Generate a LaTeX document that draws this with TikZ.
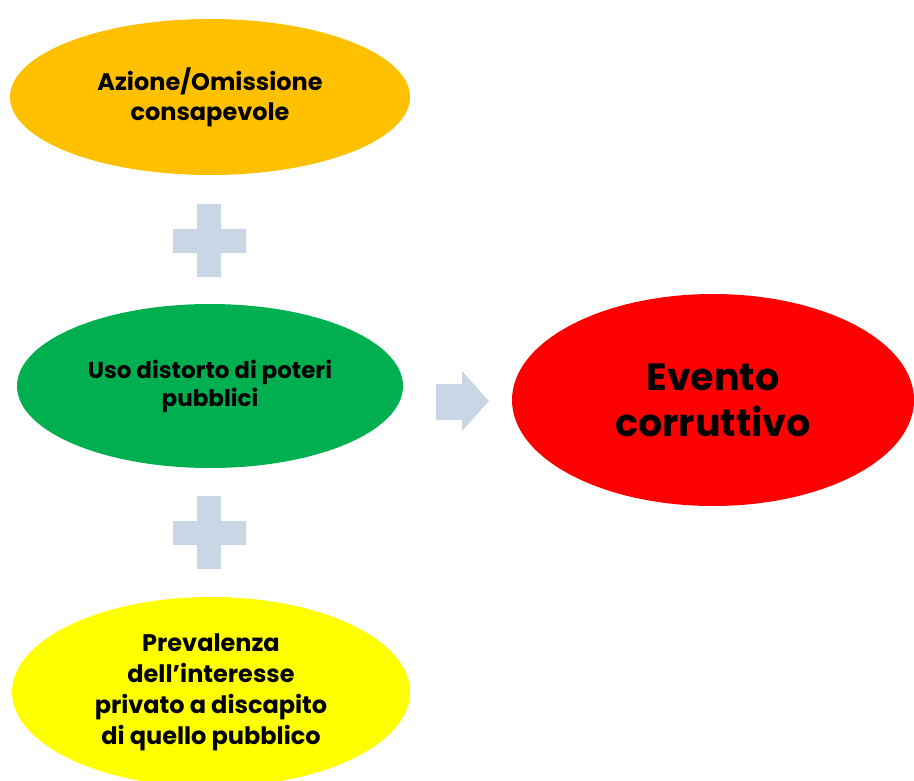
\documentclass[tikz,border=0pt]{standalone}
\usepackage{fontspec}
\setmainfont{Poppins}
\usetikzlibrary{shapes.geometric}
\definecolor{arancio}{HTML}{FFC000}
\definecolor{verde}{HTML}{00B050}
\definecolor{giallo}{HTML}{FFFF00}
\definecolor{rosso}{HTML}{FF0000}
\definecolor{grigioblu}{RGB}{200,214,229}
\begin{document}
\begin{tikzpicture}[x=1pt, y=-1pt,
  bolla/.style={ellipse, inner sep=0pt, align=center}]
\useasboundingbox (0,0) rectangle (914,780);
\node (A) [bolla, fill=arancio, minimum width=400pt, minimum height=156pt,
  font=\bfseries\fontsize{24}{30}\selectfont] at (210,97)
  {Azione/Omissione\\consapevole};
\node (U) [bolla, fill=verde, minimum width=386pt, minimum height=164pt,
  font=\bfseries\fontsize{23}{28}\selectfont] at (210,386)
  {Uso distorto di poteri\\pubblici};
\node (P) [bolla, fill=giallo, minimum width=398pt, minimum height=190pt,
  font=\bfseries\fontsize{24}{31}\selectfont] at (211,692)
  {Prevalenza\\dell’interesse\\privato a discapito\\di quello pubblico};
\node (E) [bolla, fill=rosso, minimum width=402pt, minimum height=212pt,
  font=\bfseries\fontsize{38}{46}\selectfont] at (713,400)
  {Evento\\corruttivo};
% segni piu' e freccia
\fill[grigioblu] (197,204) rectangle (221,277) (173,229) rectangle (246,253);
\fill[grigioblu] (197,496) rectangle (221,569) (173,521) rectangle (246,545);
\fill[grigioblu] (436,384) -- (462,384) -- (462,371) -- (489,401)
  -- (462,431) -- (462,420) -- (436,420) -- cycle;
\end{tikzpicture}
\end{document}
